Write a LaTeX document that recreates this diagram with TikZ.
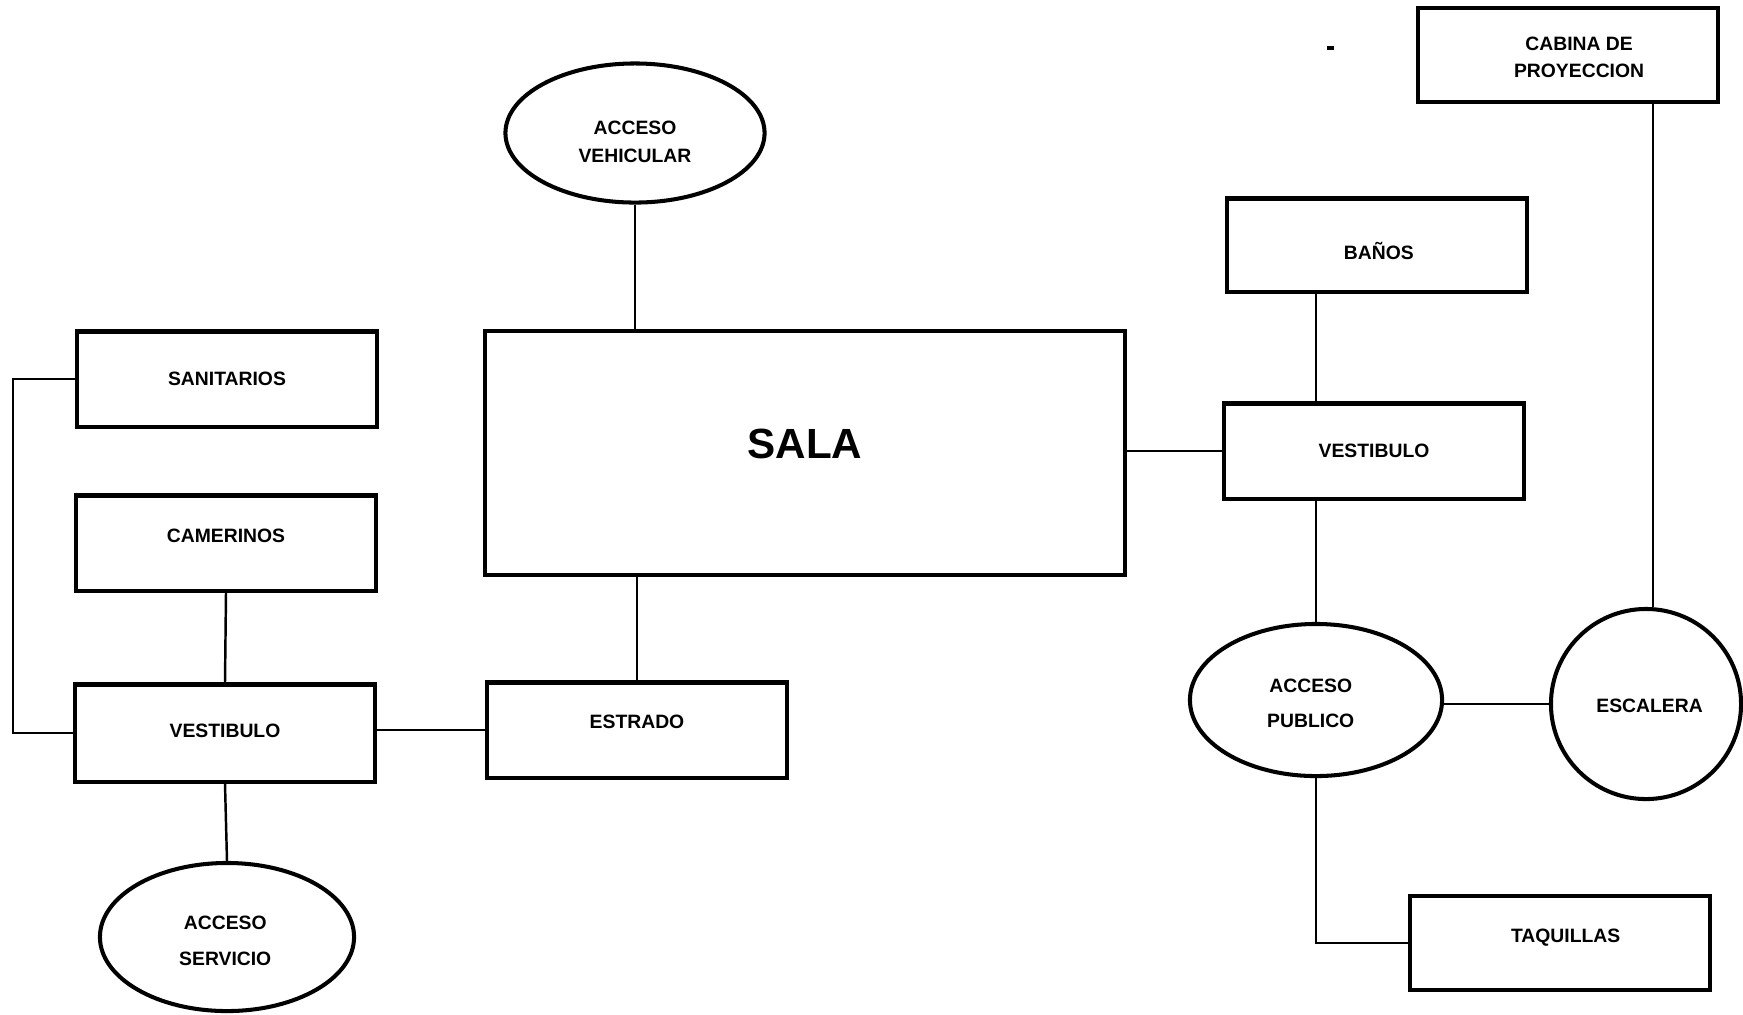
\documentclass[tikz,border=0pt]{standalone}
\usepackage{fontspec}
\setmainfont{Liberation Sans}
\usepackage{tikz}
\usetikzlibrary{shapes.geometric}
\newcommand{\boxwidth}{3cm}
\newcommand{\boxheight}{0.95cm}
% #1 corrimiento horizontal, #2 vertical, #3 texto
\newcommand{\rotulo}[3]{\hspace*{#1}\raisebox{#2}[\height][\depth]{\begin{tabular}{@{}c@{}}#3\end{tabular}}}
\tikzset{>=stealth,
  espacio/.style={draw, line width=1.15pt, minimum width=\boxwidth, minimum height=\boxheight, inner sep=0pt, font=\fontsize{5.5}{7.8}\selectfont\bfseries, align=center},
  acceso/.style={draw, ellipse, line width=1.15pt, inner sep=0pt, font=\fontsize{5.5}{7.8}\selectfont\bfseries, align=center},
  liga/.style={line width=0.7pt}}
\begin{document}
\begin{tikzpicture}[x=0.01cm, y=-0.01cm]
  \useasboundingbox (0,0) rectangle (1743,1014);

  \node[espacio, minimum width=6.4cm, minimum height=2.44cm, font=\fontsize{12}{14}\selectfont\bfseries] (sala) at (805,453) {\rotulo{0pt}{1.3pt}{SALA}};
  \node[acceso, minimum width=2.59cm, minimum height=1.39cm] (accveh) at (635,133) {\rotulo{0pt}{-2.8pt}{ACCESO\\VEHICULAR}};
  \node[espacio] (estrado) at (637,730) {\rotulo{0pt}{1.9pt}{ESTRADO}};

  \node[espacio] (sanit) at (227,379) {SANITARIOS};
  \node[espacio] (camer) at (226,543) {\rotulo{0pt}{1.6pt}{CAMERINOS}};
  \node[espacio, minimum height=0.97cm] (vestl) at (225,733) {\rotulo{0pt}{0.3pt}{VESTIBULO}};
  \node[acceso, minimum width=2.54cm, minimum height=1.48cm] (accserv) at (227,937) {\rotulo{-1pt}{-1.4pt}{ACCESO\\[2.2pt]SERVICIO}};
  \coordinate (vuelta) at (13,379);

  \node[espacio, minimum height=0.93cm] (banos) at (1377,245) {\rotulo{1pt}{-2.5pt}{BAÑOS}};
  \node[espacio] (vestr) at (1374,451) {VESTIBULO};
  \node[espacio, minimum height=0.94cm] (cabina) at (1568,55) {\rotulo{6.3pt}{-0.95pt}{CABINA DE\\PROYECCION}};
  \node[acceso, minimum width=2.52cm, minimum height=1.52cm] (accpub) at (1316,700) {\rotulo{-3pt}{-1.3pt}{ACCESO\\[2.2pt]PUBLICO}};
  \node[acceso, circle, minimum size=1.9cm] (escal) at (1646,704) {\rotulo{2pt}{-0.95pt}{ESCALERA}};
  \node[espacio, minimum height=0.94cm] (taq) at (1560,943) {\rotulo{3.2pt}{1.6pt}{TAQUILLAS}};

  \draw[liga] (accveh.south) -- (accveh.south |- sala.north);
  \draw[liga] (estrado.north) -- (estrado.north |- sala.south);
  \draw[liga] (sala.east |- vestr.west) -- (vestr.west);
  \draw[liga] (vestl.east |- estrado.west) -- (estrado.west);
  \draw[liga] (camer.south) -- (vestl.north);
  \draw[liga] (vestl.south) -- (accserv.north);
  \draw[liga] (sanit.west) -- (vuelta) |- (vestl.west);

  \draw[liga] (banos.south -| accpub.north) -- (vestr.north -| accpub.north);
  \draw[liga] (accpub.north) -- (accpub.north |- vestr.south);
  \draw[liga] (escal.west) -- (accpub.east |- escal.west);
  \draw[liga] ([xshift=0.07cm]escal.north) -- ([xshift=0.07cm]escal.north |- cabina.south);
  \draw[liga] (accpub.south) |- (taq.west);

  \fill (1327,46) rectangle (1334,50);
\end{tikzpicture}
\end{document}
